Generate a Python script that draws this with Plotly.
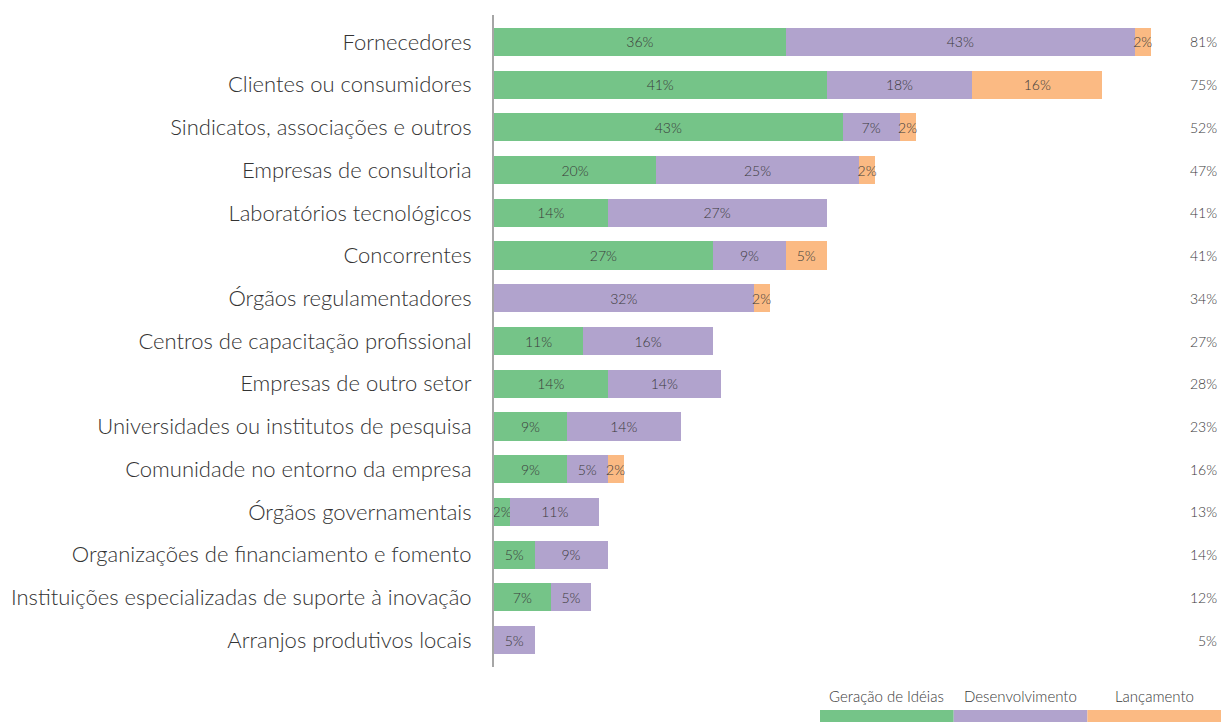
import plotly.graph_objects as go

# Categories (top to bottom) and stacked shares per stage
categories = [
    "Fornecedores",
    "Clientes ou consumidores",
    "Sindicatos, associações e outros",
    "Empresas de consultoria",
    "Laboratórios tecnológicos",
    "Concorrentes",
    "Órgãos regulamentadores",
    "Centros de capacitação profissional",
    "Empresas de outro setor",
    "Universidades ou institutos de pesquisa",
    "Comunidade no entorno da empresa",
    "Órgãos governamentais",
    "Organizações de financiamento e fomento",
    "Instituições especializadas de suporte à inovação",
    "Arranjos produtivos locais",
]
geracao = [36, 41, 43, 20, 14, 27, 0, 11, 14, 9, 9, 2, 5, 7, 0]
desenvolvimento = [43, 18, 7, 25, 27, 9, 32, 16, 14, 14, 5, 11, 9, 5, 5]
lancamento = [2, 16, 2, 2, 0, 5, 2, 0, 0, 0, 2, 0, 0, 0, 0]
totais = [81, 75, 52, 47, 41, 41, 34, 27, 28, 23, 16, 13, 14, 12, 5]

series_names = ["Geração de Idéias", "Desenvolvimento", "Lançamento"]
series_values = [geracao, desenvolvimento, lancamento]
colors = ["#75C488", "#B1A3CD", "#FBBA83"]

FONT = "Lato"
W, H = 1221, 722
ML, MR, MT, MB = 494, 0, 15, 55
px_per_unit = 8.11
plot_w = W - ML - MR
plot_h = H - MT - MB

fig = go.Figure()
for name, vals, col in zip(series_names, series_values, colors):
    fig.add_trace(go.Bar(
        y=categories,
        x=vals,
        name=name,
        orientation="h",
        marker=dict(color=col, line=dict(width=0)),
        width=0.66,
        text=[f"{v}%" if v > 0 else "" for v in vals],
        textposition="inside",
        insidetextanchor="middle",
        textangle=0,
        constraintext="none",
        textfont=dict(family=FONT, size=14, color="#3A3A3A", weight=300),
        hoverinfo="x+y+name",
        showlegend=False,
    ))

# Totals column on the right
for cat, tot in zip(categories, totais):
    fig.add_annotation(
        x=1, xref="paper", y=cat, yref="y",
        text=f"{tot}%", showarrow=False, xanchor="right", xshift=-2,
        font=dict(family=FONT, size=14, color="#3A3A3A", weight=300),
    )

# Legend drawn as coloured strips with labels above them
leg_left, leg_w = 820, 133.7
def px_to_paper_x(px):
    return (px - ML) / plot_w
def px_to_paper_y(py):
    return (H - MB - py) / plot_h

for i, (name, col) in enumerate(zip(series_names, colors)):
    x0 = leg_left + i * leg_w
    x1 = x0 + leg_w
    fig.add_shape(
        type="rect", xref="paper", yref="paper",
        x0=px_to_paper_x(x0), x1=px_to_paper_x(x1),
        y0=px_to_paper_y(724), y1=px_to_paper_y(710),
        fillcolor=col, line=dict(width=0), layer="above",
    )
    fig.add_annotation(
        x=px_to_paper_x((x0 + x1) / 2), xref="paper",
        y=px_to_paper_y(696), yref="paper",
        text=name, showarrow=False, xanchor="center", yanchor="middle",
        font=dict(family=FONT, size=15, color="#3A3A3A", weight=300),
    )

fig.update_layout(
    width=W, height=H,
    barmode="stack",
    bargap=0.34,
    plot_bgcolor="white",
    paper_bgcolor="white",
    margin=dict(l=ML, r=MR, t=MT, b=MB),
    font=dict(family=FONT, color="#333333", weight=300),
    xaxis=dict(
        range=[0, plot_w / px_per_unit],
        showgrid=False, zeroline=False, showticklabels=False, showline=False,
        fixedrange=True,
    ),
    yaxis=dict(
        categoryorder="array", categoryarray=categories,
        autorange=False, range=[len(categories) - 1 + 0.63, -0.63],
        showgrid=False, zeroline=False,
        showline=True, linecolor="#A6A6A6", linewidth=2,
        ticks="", ticklabelstandoff=16,
        tickfont=dict(family=FONT, size=22, color="#333333", weight=300),
        fixedrange=True,
    ),
)

fig.write_html("out.html")
